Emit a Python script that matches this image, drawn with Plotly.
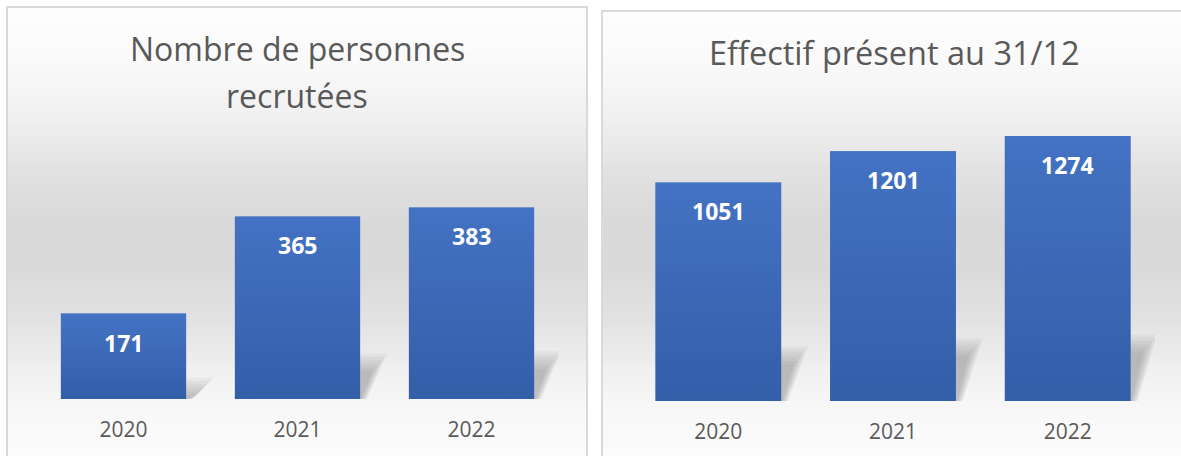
import plotly.graph_objects as go
import numpy as np

# ---- data ----
years = ["2020", "2021", "2022"]
recrues = [171, 365, 383]
effectif = [1051, 1201, 1274]
title_left_lines = ["Nombre de personnes", "recrutées"]
title_right = "Effectif présent au 31/12"

W, H = 1181, 456
BAR = "#3c68b6"
TXT = "#595959"
FONT = "Open Sans"
BARW = 0.72  # fraction of category width

def px(x):
    return x / W

def py(y):
    return 1 - y / H

grad_svg = ("data:image/svg+xml;utf8,"
            "<svg xmlns='http://www.w3.org/2000/svg' width='10' height='100' preserveAspectRatio='none'>"
            "<defs><linearGradient id='g' x1='0' y1='0' x2='0' y2='1'>"
            "<stop offset='0' stop-color='%234472c4'/><stop offset='1' stop-color='%23335ea8'/>"
            "</linearGradient></defs><rect width='10' height='100' fill='url(%23g)'/></svg>")

fig = go.Figure()

images = []
# panel setup: axis names, values, px per category, px per value unit
panels = [("x", "y", recrues, 174.0, 250 / 500), ("x2", "y2", effectif, 174.5, 312 / 1500)]
for xa, ya, vals, cat_px, unit_px in panels:
    # soft shadows to the right of each bar
    for i, v in enumerate(vals):
        xr = i + BARW / 2
        h = 0.25 * v
        nl = 7
        for k in range(nl):
            top = h - k * 3.0 / unit_px
            if top <= 0:
                break
            right_top = xr + (27 - k * 2.5) / cat_px
            right_bot = xr + max(7 - k * 1.0, 0) / cat_px
            fig.add_trace(go.Scatter(
                x=[xr - 0.05, xr - 0.05, right_top, right_bot, xr - 0.05],
                y=[0, top, top, 0, 0],
                xaxis=xa, yaxis=ya, mode="lines", fill="toself", line=dict(width=0),
                fillcolor="rgba(110,110,110,0.065)", hoverinfo="skip", showlegend=False))
    fig.add_trace(go.Bar(x=list(range(len(years))), y=vals, marker_color=BAR, marker_line_width=0,
                         width=BARW, xaxis=xa, yaxis=ya, hovertext=years, hoverinfo="text+y"))
    for i, v in enumerate(vals):
        images.append(dict(source=grad_svg, xref=xa, yref=ya, x=i - BARW / 2, y=v,
                           sizex=BARW, sizey=v, sizing="stretch", xanchor="left",
                           yanchor="top", layer="above", opacity=1))

shapes = []
# background gradients for the two panels
stops_y = [0, 60, 120, 170, 220, 270, 320, 370, 410, 456]
stops_v = [254, 250, 240, 226, 217, 218, 226, 240, 248, 251]
for (x0, x1, ytop) in [(7, 587, 7), (602, 1181, 11)]:
    step = 4
    for y in range(ytop, H, step):
        v = int(round(np.interp(y + step / 2, stops_y, stops_v)))
        c = f"rgb({v},{v},{v})"
        shapes.append(dict(type="rect", xref="paper", yref="paper",
                           x0=px(x0), x1=px(x1), y0=py(min(y + step + 0.5, H)), y1=py(y),
                           fillcolor=c, line_width=0, layer="below"))
    shapes.append(dict(type="rect", xref="paper", yref="paper",
                       x0=px(x0), x1=px(x1 + (20 if x1 >= W else 0)), y0=py(H + 10), y1=py(ytop),
                       fillcolor="rgba(0,0,0,0)", line=dict(color="#d9d9d9", width=2),
                       layer="below"))

annotations = []
for xa, ya, vals, _, _ in panels:
    for i, v in enumerate(vals):
        annotations.append(dict(x=i, y=v, xref=xa, yref=ya, text=f"<b>{v}</b>",
                                showarrow=False, yshift=-29, xanchor="center", yanchor="middle",
                                font=dict(family=FONT, size=23, color="white")))

for line, yc in zip(title_left_lines, [49, 95]):
    annotations.append(dict(x=px(297), y=py(yc), xref="paper", yref="paper",
                            text=line, showarrow=False, align="center",
                            xanchor="center", yanchor="middle",
                            font=dict(family=FONT, size=32, color=TXT)))
annotations.append(dict(x=px(894), y=py(52), xref="paper", yref="paper",
                        text=title_right, showarrow=False, align="center",
                        xanchor="center", yanchor="middle",
                        font=dict(family=FONT, size=32.5, color=TXT)))

xcommon = dict(range=[-0.5, 2.5], autorange=False, automargin=False,
               tickmode="array", tickvals=list(range(len(years))), ticktext=years,
               showgrid=False, zeroline=False, showline=False,
               ticks="", tickfont=dict(family=FONT, size=21, color=TXT),
               ticklabelstandoff=16, fixedrange=True)
ycommon = dict(visible=False, showgrid=False, zeroline=False, fixedrange=True,
               automargin=False, autorange=False)

fig.update_layout(
    width=W, height=H,
    autosize=False,
    margin=dict(l=0, r=0, t=0, b=0, pad=0, autoexpand=False),
    paper_bgcolor="white",
    plot_bgcolor="rgba(0,0,0,0)",
    showlegend=False,
    shapes=shapes,
    images=images,
    annotations=annotations,
    xaxis=dict(domain=[px(36.5), px(558.5)], anchor="y", **xcommon),
    yaxis=dict(domain=[py(399), py(149)], range=[0, 500], anchor="x", **ycommon),
    xaxis2=dict(domain=[px(631), px(1155)], anchor="y2", **xcommon),
    yaxis2=dict(domain=[py(401), py(89)], range=[0, 1500], anchor="x2", **ycommon),
)

fig.write_html("out.html", config={"displayModeBar": False},
               post_script="document.body.style.margin='0';")
